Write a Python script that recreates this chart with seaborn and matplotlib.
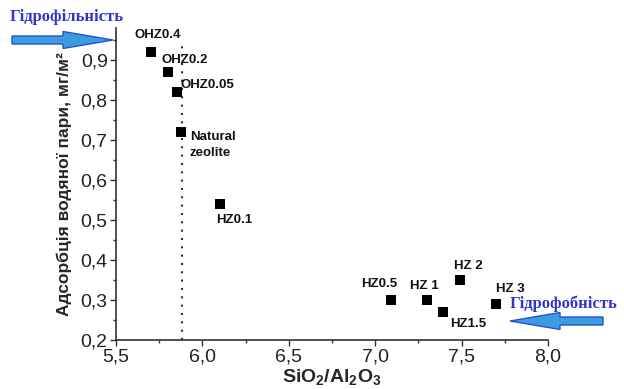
import numpy as np
import pandas as pd
import matplotlib
matplotlib.use("Agg")
import matplotlib.pyplot as plt
import seaborn as sns
from matplotlib.patches import FancyArrow
from matplotlib.ticker import FuncFormatter, MultipleLocator

# дані
samples = ["OHZ0.4", "OHZ0.2", "OHZ0.05", "Natural\nzeolite", "HZ0.1",
           "HZ0.5", "HZ 1", "HZ1.5", "HZ 2", "HZ 3"]
si_al = [5.70, 5.80, 5.85, 5.875, 6.10, 7.09, 7.30, 7.39, 7.49, 7.70]
adsorption = [0.92, 0.87, 0.82, 0.72, 0.54, 0.30, 0.30, 0.27, 0.35, 0.29]
natural_ratio = 5.88

# зміщення підписів (у пікселях)
label_offsets = [(-16, 17), (-6, 12), (4, 7), (9, -13), (-4, -16),
                 (-30, 16), (-17, 14), (8, -12), (-6, 14), (0, 15)]

df = pd.DataFrame({"ratio": si_al, "ads": adsorption, "name": samples})

sns.set_style("ticks")
plt.rcParams["font.family"] = ["Liberation Sans", "DejaVu Sans"]
plt.rcParams["mathtext.fontset"] = "custom"
plt.rcParams["mathtext.bf"] = "Liberation Sans:bold"
plt.rcParams["mathtext.rm"] = "Liberation Sans"

fig = plt.figure(figsize=(6.24, 3.89), dpi=100)
ax = fig.add_axes([0.186, 0.126, 0.692, 0.802])

ax.axvline(natural_ratio, ymax=0.95, color="#333333", ls=(0, (1, 3)), lw=1.5, zorder=1)
sns.scatterplot(data=df, x="ratio", y="ads", marker="s", color="black",
                s=50, edgecolor="black", linewidth=0, ax=ax, zorder=3)

for name, x, y, (dx, dy) in zip(samples, si_al, adsorption, label_offsets):
    ax.annotate(name, (x, y), xytext=(dx, dy), textcoords="offset pixels",
                fontsize=9.5, fontweight="bold", va="center", ha="left",
                linespacing=1.45, color="#111111")

ax.set_xlim(5.5, 8.0)
ax.set_ylim(0.2, 0.98)
ax.xaxis.set_major_locator(MultipleLocator(0.5))
ax.xaxis.set_minor_locator(MultipleLocator(0.25))
ax.yaxis.set_major_locator(MultipleLocator(0.1))
ax.yaxis.set_minor_locator(MultipleLocator(0.05))
comma = FuncFormatter(lambda v, p: f"{v:.1f}".replace(".", ","))
ax.xaxis.set_major_formatter(comma)
ax.yaxis.set_major_formatter(comma)
ax.tick_params(which="major", length=4, width=1, labelsize=14, colors="#333333",
               labelcolor="#222222", direction="out", pad=2)
ax.tick_params(which="minor", length=2.5, width=1, colors="#333333", direction="out")
for s in ["top", "right"]:
    ax.spines[s].set_visible(False)
for s in ["left", "bottom"]:
    ax.spines[s].set_color("#333333")
    ax.spines[s].set_linewidth(1.2)

ax.set_xlabel(r"$\mathbf{SiO_2/Al_2O_3}$", fontsize=14, labelpad=1)
ax.set_ylabel("Адсорбція водяної пари, мг/м²", fontsize=12.5, fontweight="bold", labelpad=6)

# стрілки
arrow_kw = dict(transform=fig.dpi_scale_trans, length_includes_head=True,
                facecolor="#3d9be0", edgecolor="#2255cc", linewidth=1.0,
                width=0.08, head_width=0.17, head_length=0.5)
fig.add_artist(FancyArrow(0.12, 3.49, 1.01, 0, **arrow_kw))
fig.add_artist(FancyArrow(6.03, 0.68, -0.93, 0, **arrow_kw))

fig.text(0.015, 0.956, "Гідрофільність", fontsize=12, fontweight="bold",
         color="#3333cc", family=["Liberation Serif", "DejaVu Serif"], va="center")
fig.text(0.817, 0.219, "Гідрофобність", fontsize=12, fontweight="bold",
         color="#3333cc", family=["Liberation Serif", "DejaVu Serif"], va="center")

fig.savefig("out.png", dpi=100)
